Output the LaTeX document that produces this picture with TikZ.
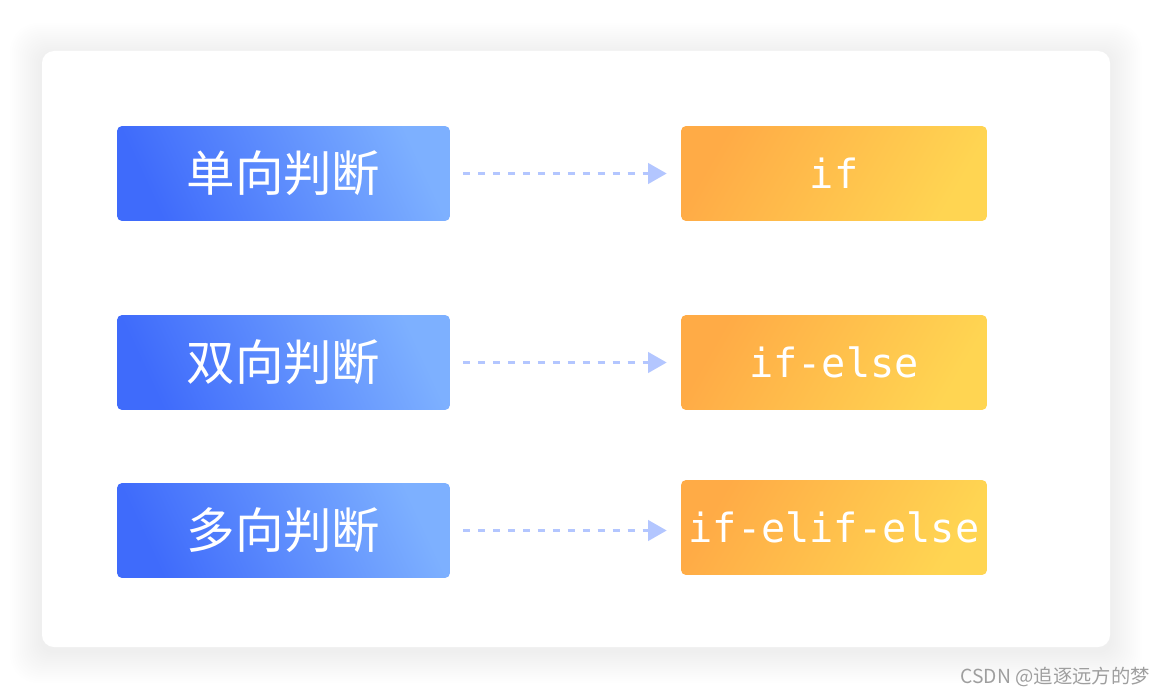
\documentclass[tikz,border=0pt]{standalone}
\usepackage{fontspec}
\setmonofont{DejaVu Sans Mono}
\newfontfamily\cjk{Noto Sans CJK SC}
\usepackage{tikz}
\usetikzlibrary{arrows.meta,positioning}
\definecolor{blueL}{HTML}{3F6BFB}
\definecolor{blueR}{HTML}{7DB0FF}
\definecolor{orgL}{HTML}{FFAB46}
\definecolor{orgR}{HTML}{FFD552}
\definecolor{arrowc}{HTML}{B3C6FF}
\definecolor{markc}{HTML}{9E9E9E}
\tikzset{judge/.style={rounded corners=0.1cm,top color=blueR,bottom color=blueL,shading angle=-65,
    minimum width=6.66cm,minimum height=1.9cm,inner sep=0pt,text=white,font=\cjk\fontsize{27.6}{30}\selectfont}}
\tikzset{kw/.style={rounded corners=0.1cm,top color=orgL,bottom color=orgR,shading angle=60,
    minimum width=6.12cm,minimum height=1.9cm,inner sep=0pt,text=white,font=\ttfamily\fontsize{22.9}{26}\selectfont}}
\tikzset{flow/.style={arrowc,line width=1.7pt,dash pattern=on 4pt off 4.5pt,
    -{Triangle[length=10.5pt,width=11.5pt]},shorten <=0.26cm,shorten >=0.28cm}}

\begin{document}
\begin{tikzpicture}[x=0.02cm,y=-0.02cm]
\useasboundingbox (0,0) rectangle (1170,696);

% card with soft shadow
\foreach \r in {1,...,16}
   \fill[black,opacity=0.0038,rounded corners={0.24cm+\r*0.02cm}] ({42-\r*2},{55-\r*2}) rectangle ({1110+\r*2},{651+\r*2});
\fill[white,rounded corners=0.24cm] (42,51) rectangle (1110,647);

\node[judge] (single) at (283.5,173.5) {单向判断};
\node[judge] (double) at (283.5,362.5) {双向判断};
\node[judge] (multi)  at (283.5,530.5) {多向判断};

\node[kw] (ifa) at (834,173.5) {if};
\node[kw] (ifb) at (834,362.5) {if-else};
\node[kw] (ifc) at (834,527.5) {if-elif-else};

\foreach \a/\b in {single/ifa,double/ifb,multi/ifc}
   \draw[flow] (\a.east) -- (\a.east -| \b.west);

\node[anchor=east,markc,font=\cjk\fontsize{11}{12}\selectfont] (mark) at (1156,677) {CSDN @追逐远方的梦};
\end{tikzpicture}
\end{document}
